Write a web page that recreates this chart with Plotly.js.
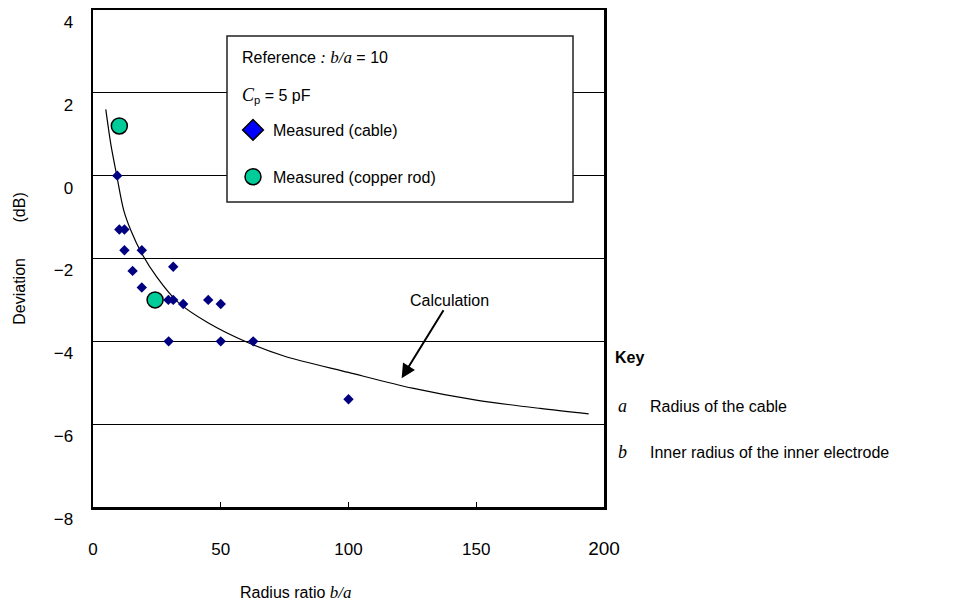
<!DOCTYPE html>
<html><head><meta charset="utf-8">
<script src="https://cdn.plot.ly/plotly-3.0.1.min.js"></script>
<style>html,body{margin:0;padding:0;background:#fff}</style>
</head><body>
<div id="chart" style="width:972px;height:606px"></div>
<script>
// Measured (cable) points
const cableX = [9.5, 10.3, 12.3, 12.3, 19.1, 15.5, 31.4, 19.1, 29.5, 31.4, 35.3, 45.1, 50.0, 29.6, 50.0, 62.7, 100.0];
const cableY = [0.0, -1.3, -1.3, -1.8, -1.8, -2.3, -2.2, -2.7, -3.0, -3.0, -3.1, -3.0, -3.1, -4.0, -4.0, -4.0, -5.4];
// Measured (copper rod) points
const rodX = [10.3, 24.3];
const rodY = [1.2, -3.0];
// Calculation curve
const calcX = [5, 7, 9.3, 12, 15, 19, 25, 33, 45, 61, 75, 100, 125, 150, 175, 194];
const calcY = [1.6, 0.75, 0.0, -0.83, -1.35, -1.87, -2.45, -3.04, -3.55, -4.04, -4.36, -4.75, -5.13, -5.42, -5.62, -5.75];
// Ticks
const xTickVals = [0, 50, 100, 150, 200];
const xTickText = ['0', '50', '100', '150', '<span style="font-size:19px">200</span>'];
const yTickVals = [-8, -6, -4, -2, 0, 2, 4];

const SANS = 'Liberation Sans, Arial, sans-serif';

const traces = [
  {x: calcX, y: calcY, mode: 'lines', line: {color: 'black', width: 1.2, shape: 'spline', smoothing: 0.8},
   showlegend: false, hoverinfo: 'skip'},
  {x: cableX, y: cableY, mode: 'markers', name: 'Measured (cable)',
   marker: {symbol: 'diamond', color: '#000080', size: 8}, showlegend: false},
  {x: [null], y: [null], mode: 'markers', name: 'Measured (cable)', legendgroup: 'a',
   marker: {symbol: 'diamond', color: '#0000ff', size: 16, line: {color: 'black', width: 1.5}}},
  {x: rodX, y: rodY, mode: 'markers', name: 'Measured (copper rod)', legendgroup: 'b',
   marker: {symbol: 'circle', color: '#00cc99', size: 16, line: {color: 'black', width: 1.5}}}
];

const px = v => (v - 93) / 511;
const py = v => (507 - v) / 497;

const layout = {
  width: 972, height: 606,
  margin: {l: 93, r: 368, t: 10, b: 99},
  paper_bgcolor: 'white', plot_bgcolor: 'white',
  font: {family: SANS, size: 16, color: 'black'},
  xaxis: {
    range: [0, 200], showgrid: false, zeroline: false,
    showline: true, linewidth: 2.5, linecolor: 'black', mirror: true,
    ticks: 'inside', ticklen: 5, tickwidth: 1, tickcolor: 'black',
    tickvals: xTickVals, ticktext: xTickText,
    tickfont: {family: SANS, size: 17, color: 'black'},
    ticklabelstandoff: 25
  },
  yaxis: {
    range: [-8, 4], tickvals: yTickVals, showgrid: true, gridcolor: 'black', gridwidth: 1,
    zeroline: false, showline: true, linewidth: 2.5, linecolor: 'black', mirror: true,
    ticks: '', tickfont: {family: SANS, size: 17, color: 'black'},
    ticklabelposition: 'outside bottom', ticklabelstandoff: 14,
    title: {text: 'Deviation\u00a0\u00a0\u00a0\u00a0\u00a0\u00a0\u00a0\u00a0(dB)', font: {family: SANS, size: 16, color: 'black'}, standoff: 24}
  },
  legend: {
    x: px(233), y: py(113), xanchor: 'left', yanchor: 'top',
    bgcolor: 'rgba(0,0,0,0)', borderwidth: 0,
    font: {family: SANS, size: 16, color: 'black'},
    traceorder: 'grouped', tracegroupgap: 23
  },
  shapes: [
    {type: 'rect', xref: 'paper', yref: 'paper', x0: px(227), x1: px(573), y0: py(202), y1: py(36),
     fillcolor: 'white', line: {color: '#222', width: 1.5}, layer: 'above'}
  ],
  annotations: [
    {xref: 'paper', yref: 'paper', x: px(240), y: py(58), xanchor: 'left', yanchor: 'middle', showarrow: false,
     text: 'Reference <span style="font-family:Liberation Serif;font-size:17px"><i>: b/a</i></span> = 10'},
    {xref: 'paper', yref: 'paper', x: px(240), y: py(95), xanchor: 'left', yanchor: 'middle', showarrow: false,
     text: '<span style="font-family:Liberation Serif;font-size:18px"><i>C</i></span><sub>p</sub> = 5 pF'},
    {x: 120.8, y: -4.89, xref: 'x', yref: 'y', ax: 48, ay: -78, axref: 'pixel', ayref: 'pixel',
     text: 'Calculation', showarrow: true, arrowhead: 2, arrowsize: 1.4, arrowwidth: 2, arrowcolor: 'black',
     font: {family: SANS, size: 16, color: 'black'}},
    {xref: 'paper', yref: 'paper', x: px(296), y: py(592), xanchor: 'center', yanchor: 'middle', showarrow: false,
     text: 'Radius ratio <span style="font-family:Liberation Serif;font-size:17px"><i>b/a</i></span>'},
    {xref: 'paper', yref: 'paper', x: px(613), y: py(357), xanchor: 'left', yanchor: 'middle', showarrow: false,
     text: '<b>Key</b>'},
    {xref: 'paper', yref: 'paper', x: px(616), y: py(406), xanchor: 'left', yanchor: 'middle', showarrow: false,
     text: '<span style="font-family:Liberation Serif;font-size:18px"><i>a</i></span>'},
    {xref: 'paper', yref: 'paper', x: px(648), y: py(406), xanchor: 'left', yanchor: 'middle', showarrow: false,
     text: 'Radius of the cable'},
    {xref: 'paper', yref: 'paper', x: px(616), y: py(452), xanchor: 'left', yanchor: 'middle', showarrow: false,
     text: '<span style="font-family:Liberation Serif;font-size:18px"><i>b</i></span>'},
    {xref: 'paper', yref: 'paper', x: px(648), y: py(452), xanchor: 'left', yanchor: 'middle', showarrow: false,
     text: 'Inner radius of the inner electrode'}
  ]
};

Plotly.newPlot('chart', traces, layout, {displayModeBar: false, staticPlot: true});
</script>
</body></html>
